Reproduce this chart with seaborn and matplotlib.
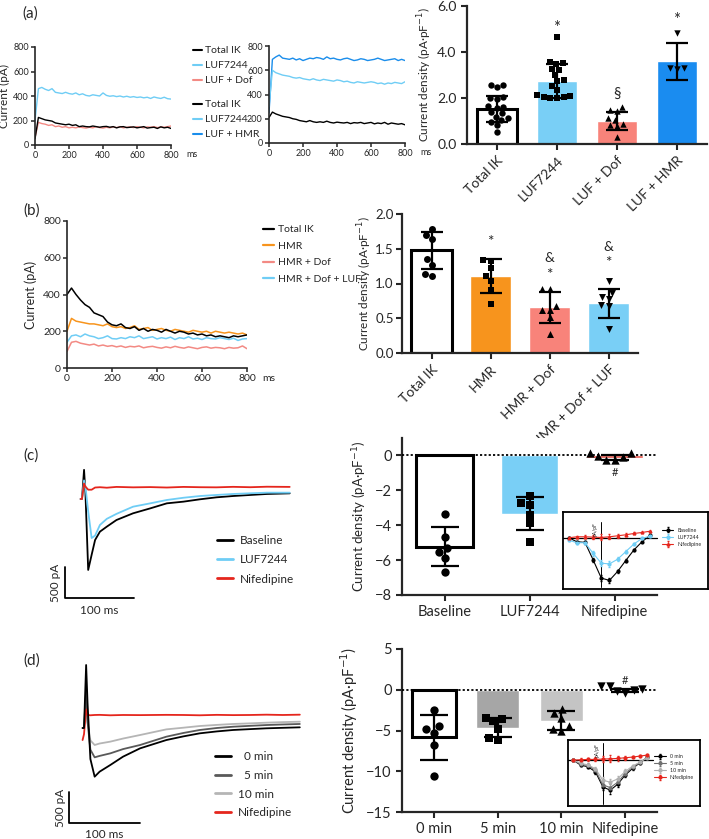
import numpy as np
import matplotlib
matplotlib.use("Agg")
import matplotlib.pyplot as plt
import seaborn as sns

W, H = 709, 839

# --------------------------------------------------------------------
# DATA
# --------------------------------------------------------------------
# (a) current traces, pA, sampled every 20 ms from 0 to 800 ms
a1_total = [50, 225, 215, 205, 200, 195, 180, 175, 170, 165, 170, 160, 165, 150, 155, 150, 148, 155, 150, 145, 150,
            152, 145, 150, 140, 148, 150, 142, 145, 148, 140, 145, 150, 138, 142, 145, 135, 148, 140, 145, 135]
a1_luf = [200, 460, 470, 455, 445, 460, 430, 425, 420, 430, 420, 415, 425, 410, 418, 405, 400, 410, 405, 400, 425,
          405, 398, 402, 395, 400, 392, 398, 390, 395, 388, 392, 385, 390, 380, 392, 385, 380, 390, 378, 375]
a1_dof = [60, 185, 175, 170, 160, 165, 150, 155, 145, 150, 140, 145, 140, 148, 142, 138, 145, 140, 150, 142, 138,
          145, 140, 148, 142, 150, 140, 145, 148, 142, 150, 145, 140, 148, 145, 150, 142, 148, 145, 150, 155]
a2_total = [210, 255, 240, 230, 220, 215, 210, 200, 195, 185, 180, 175, 185, 175, 170, 175, 170, 180, 170, 165, 172,
            168, 165, 170, 160, 168, 165, 170, 160, 165, 170, 158, 165, 160, 170, 155, 165, 160, 155, 160, 150]
a2_luf = [300, 600, 580, 570, 560, 555, 550, 540, 535, 540, 530, 525, 520, 530, 520, 515, 525, 520, 515, 510, 520,
          515, 505, 510, 500, 495, 505, 500, 495, 500, 505, 500, 490, 495, 485, 495, 490, 500, 495, 490, 505]
a2_hmr = [250, 690, 710, 725, 700, 695, 690, 700, 685, 695, 680, 690, 700, 695, 705, 700, 690, 710, 695, 700, 690,
          685, 695, 700, 690, 680, 685, 695, 690, 680, 685, 690, 700, 690, 680, 685, 690, 695, 680, 690, 680]

# (a) current density bars
a_cats = ["Total IK", "LUF7244", "LUF + Dof", "LUF + HMR"]
a_mean = [1.52, 2.75, 1.0, 3.6]
a_sd = [0.57, 0.75, 0.4, 0.8]
a_points = [
    [2.57, 2.55, 2.46, 2.03, 1.99, 1.94, 1.65, 1.62, 1.55, 1.40, 1.33, 1.19, 1.12, 1.04, 0.97, 0.83, 0.54],
    [4.67, 3.58, 3.51, 3.48, 3.25, 3.22, 3.0, 2.78, 2.74, 2.52, 2.35, 2.15, 2.1, 2.06, 2.03, 2.01, 2.0],
    [1.62, 1.48, 1.45, 1.12, 1.04, 0.87, 0.83, 0.78, 0.29],
    [4.81, 3.29, 3.26, 3.29],
]

# (b) current traces, pA, every 20 ms
b_total = [400, 435, 400, 370, 345, 330, 300, 290, 280, 250, 235, 230, 240, 220, 215, 225, 205, 215, 200, 210, 205,
           195, 210, 200, 190, 200, 195, 185, 190, 180, 185, 175, 180, 170, 175, 170, 165, 175, 170, 175, 180]
b_hmr = [200, 270, 255, 250, 245, 240, 240, 235, 230, 240, 225, 220, 225, 215, 220, 230, 210, 215, 220, 205, 210,
         215, 205, 200, 210, 205, 200, 195, 205, 200, 195, 200, 190, 200, 195, 190, 195, 190, 185, 190, 180]
b_dof = [90, 140, 145, 135, 130, 125, 130, 120, 125, 118, 122, 115, 120, 112, 118, 115, 120, 110, 115, 118, 112,
         108, 115, 110, 118, 112, 108, 115, 110, 105, 112, 115, 108, 112, 110, 105, 112, 108, 110, 120, 105]
b_luf = [140, 175, 180, 170, 185, 175, 170, 160, 165, 175, 160, 158, 165, 160, 170, 165, 175, 160, 165, 170, 158,
         165, 160, 168, 155, 165, 160, 170, 158, 162, 155, 165, 160, 158, 165, 160, 155, 162, 150, 158, 160]

b_cats = ["Total IK", "HMR", "HMR + Dof", "HMR + Dof + LUF"]
b_mean = [1.475, 1.11, 0.655, 0.715]
b_sd = [0.27, 0.245, 0.22, 0.21]
b_points = [
    [1.79, 1.70, 1.64, 1.35, 1.27, 1.14, 1.11],
    [1.34, 1.33, 1.23, 1.11, 1.03, 0.91, 0.70],
    [0.92, 0.92, 0.67, 0.62, 0.62, 0.52, 0.28],
    [1.04, 0.86, 0.80, 0.77, 0.69, 0.67, 0.35],
]

# (c) calcium current traces (ms, pA)
c_time = [-2, 0, 3, 5, 9, 14, 19, 26, 36, 50, 74, 99, 123, 147, 171, 195, 219, 244, 268, 301]
c_base = [0, 0, 470, 100, -1145, -900, -661, -527, -446, -339, -231, -151, -70, -43, -5, 27, 48, 65, 81, 91]
c_luf = [0, 0, 300, 200, -200, -630, -590, -419, -320, -240, -124, -70, -16, 20, 48, 65, 81, 92, 102, 102]
c_nif = [0, 0, 250, 200, 150, 150, 185, 190, 182, 195, 188, 192, 185, 195, 190, 188, 196, 190, 198, 195]

c_cats = ["Baseline", "LUF7244", "Nifedipine"]
c_mean = [-5.24, -3.35, -0.12]
c_sd = [1.12, 0.95, 0.15]
c_points = [
    [-3.37, -4.70, -5.28, -5.52, -5.90, -6.67],
    [-2.34, -2.72, -2.86, -3.39, -3.87, -4.95],
    [0.15, 0.12, -0.05, -0.1, -0.25, -0.25],
]
iv_volt = [-40, -30, -20, -10, 0, 10, 20, 30, 40, 50, 60]
c_iv_base = [0, -0.6, -0.7, -3.35, -6.1, -6.45, -5.1, -3.45, -1.85, -0.6, 0.4]
c_iv_luf = [-0.35, -0.75, -0.75, -2.35, -3.85, -3.95, -3.25, -2.1, -0.95, -0.1, 0.25]
c_iv_nif = [0, 0.15, 0.15, 0.1, 0.05, 0.15, 0.3, 0.45, 0.65, 0.8, 1.0]
c_iv_err = [0.1, 0.15, 0.2, 0.35, 0.45, 0.4, 0.3, 0.2, 0.15, 0.1, 0.1]

# (d) calcium current traces (ms, pA)
d_time = [-2, 0, 3, 5, 9, 15, 22, 37, 55, 79, 116, 140, 163, 187, 210, 234, 257, 280, 304]
d_0 = [0, 0, 1016, 400, -500, -785, -704, -597, -462, -328, -194, -135, -86, -55, -32, -18, -5, 3, 11]
d_5 = [0, 0, 600, 100, -350, -473, -450, -409, -340, -274, -140, -80, -32, 0, 21, 35, 48, 57, 65]
d_10 = [0, 0, 400, 100, -200, -274, -250, -220, -170, -113, -22, 5, 32, 50, 65, 75, 86, 95, 102]
d_nif = [-194, -100, 300, 210, 205, 210, 212, 205, 210, 208, 212, 210, 205, 212, 208, 210, 215, 210, 215]

d_cats = ["0 min", "5 min", "10 min", "Nifedipine"]
d_mean = [-5.8, -4.65, -3.8, -0.1]
d_sd = [2.76, 1.2, 1.15, 0.2]
d_points = [
    [-2.45, -4.5, -4.78, -5.31, -6.75, -10.63],
    [-3.43, -3.56, -3.88, -4.78, -5.89, -6.13],
    [-2.41, -2.86, -3.43, -4.5, -4.78, -5.07],
    [0.45, 0.45, 0.04, -0.08, -0.16, -0.37],
]
d_iv_0 = [0, -0.75, -1.0, -1.75, -4.0, -4.5, -3.6, -2.25, -1.25, -0.4, 0.4]
d_iv_5 = [0, -0.6, -0.8, -1.5, -3.7, -4.1, -3.3, -2.0, -1.1, -0.35, 0.4]
d_iv_10 = [0, -0.5, -0.7, -1.3, -3.0, -3.3, -2.8, -1.7, -0.9, -0.3, 0.35]
d_iv_nif = [0, 0.05, 0.1, 0.1, 0.15, 0.2, 0.25, 0.35, 0.45, 0.6, 0.75]
d_iv_err = [0.1, 0.2, 0.2, 0.3, 0.5, 0.5, 0.4, 0.3, 0.2, 0.15, 0.1]

# colours
BLACK = "black"
LBLUE = "#6fcdf5"
DBLUE = "#1a8deb"
PINK = "#f38a84"
ORANGE = "#f7941d"
RED = "#e5261d"

# --------------------------------------------------------------------
# STYLE
# --------------------------------------------------------------------
sns.set_style("ticks")
plt.rcParams["font.family"] = ["Lato", "DejaVu Sans"]
plt.rcParams["axes.linewidth"] = 1.2

fig = plt.figure(figsize=(W / 100, H / 100), dpi=100)


def rect(x0, y0, x1, y1):
    return [x0 / W, 1 - y1 / H, (x1 - x0) / W, (y1 - y0) / H]


def trace_axes(ax, labsize):
    sns.despine(ax=ax)
    ax.set_xlim(0, 800)
    ax.set_ylim(0, 800)
    ax.set_xticks(range(0, 801, 200))
    ax.set_yticks(range(0, 801, 200))
    ax.tick_params(labelsize=labsize, length=3, width=1.1, pad=1.5)
    ax.annotate("ms", xy=(1, 0), xycoords="axes fraction", xytext=(11, -labsize - 3.5),
                textcoords="offset points", fontsize=labsize, va="bottom")


def draw_traces(ax, series, colors, labels, lw=1.0):
    lines = []
    for vals, col, lab in zip(series, colors, labels):
        t = np.linspace(0, 800, len(vals))
        sns.lineplot(x=t, y=vals, ax=ax, color=col, lw=lw, estimator=None, sort=False)
        lines.append(ax.lines[-1])
    return lines


def fig_legend(handles, labels, x, y, fs, hl, tp, ls, lw):
    leg = fig.legend(handles, labels, loc="upper left", bbox_to_anchor=(x / W, 1 - y / H),
                     frameon=False, fontsize=fs, handlelength=hl, handletextpad=tp,
                     labelspacing=ls, borderpad=0, borderaxespad=0)
    for h in leg.legend_handles:
        h.set_linewidth(lw)
    return leg


def bar_panel(ax, cats, means, sds, points, colors, markers, msize=5.5, capsize=8):
    sns.barplot(x=cats, y=means, hue=cats, palette=colors, order=cats, hue_order=cats,
                legend=False, width=0.68, saturation=1, errorbar=None, ax=ax, zorder=2)
    for p, col in zip(ax.patches, colors):
        if col == "white":
            p.set_edgecolor("black")
            p.set_linewidth(2.2)
    ax.errorbar(np.arange(len(cats)), means, yerr=sds, fmt="none", ecolor="black",
                elinewidth=1.6, capsize=capsize, capthick=1.6, zorder=4)
    for cat, vals, m in zip(cats, points, markers):
        sns.swarmplot(x=[cat] * len(vals), y=vals, order=cats, marker=m, color="black",
                      size=msize, ax=ax, zorder=5, warn_thresh=1)
    sns.despine(ax=ax)
    for s in ("left", "bottom"):
        ax.spines[s].set_linewidth(1.6)
    ax.tick_params(length=4, width=1.5)
    ax.set_xlim(-0.5, len(cats) - 0.5)
    ax.set_xlabel("")


YLAB = "Current density (pA·pF$^{-1}$)"

# --------------------------------------------------------------------
# (a)
# --------------------------------------------------------------------
ax = fig.add_axes(rect(35, 47, 171, 145))
l1 = draw_traces(ax, [a1_luf, a1_dof, a1_total], [LBLUE, PINK, BLACK], ["LUF7244", "LUF + Dof", "Total IK"])
trace_axes(ax, 6.5)
ax.set_ylabel("Current (pA)", fontsize=8.5, labelpad=2)
fig_legend([l1[2], l1[0], l1[1]], ["Total IK", "LUF7244", "LUF + Dof"], 193, 46, 7.5, 0.9, 0.25, 0.55, 1.5)

ax = fig.add_axes(rect(269, 46, 405, 143))
l2 = draw_traces(ax, [a2_hmr, a2_luf, a2_total], [DBLUE, LBLUE, BLACK], ["LUF + HMR", "LUF7244", "Total IK"])
trace_axes(ax, 6.5)
fig_legend([l2[2], l2[1], l2[0]], ["Total IK", "LUF7244", "LUF + HMR"], 193, 100, 7.5, 0.9, 0.25, 0.55, 1.5)

ax = fig.add_axes(rect(467, 6, 707, 144))
bar_panel(ax, a_cats, a_mean, a_sd, a_points, ["white", "#79cff6", "#f8837a", "#1a8cf0"],
          ["o", "s", "^", "v"], msize=4.6, capsize=8)
ax.set_ylim(0, 6)
ax.set_yticks([0, 2, 4, 6])
ax.set_yticklabels(["0.0", "2.0", "4.0", "6.0"], fontsize=10)
ax.set_xticks(range(4))
ax.set_xticklabels(a_cats, rotation=45, ha="right", rotation_mode="anchor", fontsize=10)
ax.set_ylabel(YLAB, fontsize=8.5, labelpad=2)
ax.text(1, 5.05, "*", ha="center", va="center", fontsize=12)
ax.text(3, 5.4, "*", ha="center", va="center", fontsize=12)
ax.text(2, 2.2, "§", ha="center", va="center", fontsize=11)

fig.text(22 / W, 1 - 14 / H, "(a)", fontsize=11, va="center")

# --------------------------------------------------------------------
# (b)
# --------------------------------------------------------------------
ax = fig.add_axes(rect(67, 221, 247, 368))
lb = draw_traces(ax, [b_hmr, b_luf, b_dof, b_total], [ORANGE, LBLUE, PINK, BLACK],
                 ["HMR", "HMR + Dof + LUF", "HMR + Dof", "Total IK"], lw=1.1)
trace_axes(ax, 7.5)
ax.set_ylabel("Current (pA)", fontsize=9, labelpad=4)
fig_legend([lb[3], lb[0], lb[2], lb[1]], ["Total IK", "HMR", "HMR + Dof", "HMR + Dof + LUF"],
           263, 225, 7.5, 1.1, 0.35, 0.7, 1.6)

ax = fig.add_axes(rect(402, 214, 638, 353))
bar_panel(ax, b_cats, b_mean, b_sd, b_points, ["white", "#f7941d", "#f8837a", "#79cff6"],
          ["o", "s", "^", "v"], msize=5, capsize=8)
ax.set_ylim(0, 2)
ax.set_yticks([0, 0.5, 1.0, 1.5, 2.0])
ax.set_yticklabels(["0.0", "0.5", "1.0", "1.5", "2.0"], fontsize=9.5)
ax.tick_params(axis="y", pad=2)
ax.set_xticks(range(4))
ax.set_xticklabels(b_cats, rotation=45, ha="right", rotation_mode="anchor", fontsize=10)
ax.set_ylabel(YLAB, fontsize=8.5, labelpad=0.5)
ax.text(1, 1.59, "*", ha="center", va="center", fontsize=11)
ax.text(2, 1.36, "&", ha="center", va="center", fontsize=10)
ax.text(2, 1.12, "*", ha="center", va="center", fontsize=11)
ax.text(3, 1.52, "&", ha="center", va="center", fontsize=10)
ax.text(3, 1.29, "*", ha="center", va="center", fontsize=11)

fig.text(23 / W, 1 - 211 / H, "(b)", fontsize=11, va="center")


# --------------------------------------------------------------------
# (c)
# --------------------------------------------------------------------
def ca_traces(ax, time, series, colors, labels, xlim, ylim, bar, lw=1.3):
    lines = []
    for vals, col, lab in zip(series, colors, labels):
        sns.lineplot(x=time, y=vals, ax=ax, color=col, lw=lw, estimator=None, sort=False)
        lines.append(ax.lines[-1])
    ax.set_xlim(*xlim)
    ax.set_ylim(*ylim)
    ax.axis("off")
    t0, y0, tx, ty = bar
    ax.plot([t0, t0, t0 + 100], [y0 + 500, y0, y0], color="black", lw=1.3)
    ax.text(t0 + 50, ty, "100 ms", ha="center", va="center", fontsize=8.5)
    ax.text(tx, y0 + 250, "500 pA", ha="center", va="center", rotation=90, fontsize=8.5)
    return lines


def iv_inset(ax, series, colors, markers, labels, err, ylim, vtop, vbot):
    ax.plot([-47, 68], [0, 0], color="black", lw=0.9)
    ax.plot([0, 0], [vbot, vtop], color="black", lw=0.7)
    for vals, col, m, lab in zip(series, colors, markers, labels):
        ax.errorbar(iv_volt, vals, yerr=err, color=col, marker=m, ms=2, lw=0.8,
                    elinewidth=0.5, capsize=1, label=lab)
    ax.set_xlim(-47, 131)
    ax.set_ylim(*ylim)
    ax.set_xticks([])
    ax.set_yticks([])
    for s in ax.spines.values():
        s.set_linewidth(1.3)
        s.set_color("black")
    ax.text(-4, vtop, "pA/pF", rotation=90, fontsize=3.5, ha="right", va="top")
    ax.legend(loc="upper right", fontsize=3.8, frameon=False, handlelength=2.2,
              labelspacing=0.4, bbox_to_anchor=(0.99, 0.86))


ax = fig.add_axes(rect(55, 460, 305, 620))
lc = ca_traces(ax, c_time, [c_base, c_luf, c_nif], [BLACK, LBLUE, RED], c_cats,
               (-39.1, 323.2), (-1952, 629), (-24.6, -1597, -37.7, -1806))
fig_legend(lc, c_cats, 217, 535, 8.5, 1.35, 0.6, 0.7, 2)

ax = fig.add_axes(rect(402, 438, 657, 595))
bar_panel(ax, c_cats, c_mean, c_sd, c_points, ["white", "#79cff6", "#e9554c"],
          ["o", "s", "^"], msize=6, capsize=10)
ax.axhline(0, color="black", lw=1.3, ls=(0, (1.2, 1.2)), zorder=3)
ax.set_ylim(-8, 1)
ax.set_yticks([-8, -6, -4, -2, 0])
ax.tick_params(labelsize=10.5)
ax.set_ylabel(YLAB, fontsize=9.5, labelpad=4)
ax.text(2, -0.95, "#", ha="center", va="center", fontsize=8)

ax = fig.add_axes(rect(563, 512, 708, 589))
iv_inset(ax, [c_iv_base, c_iv_luf, c_iv_nif], [BLACK, LBLUE, RED], ["o", "o", "^"],
         ["Baseline", "LUF7244", "Nifedipine"], c_iv_err, (-7.75, 3.9), 2.4, -7.4)

fig.text(23 / W, 1 - 456 / H, "(c)", fontsize=11, va="center")

# --------------------------------------------------------------------
# (d)
# --------------------------------------------------------------------
ax = fig.add_axes(rect(55, 650, 305, 839))
ld = ca_traces(ax, d_time, [d_10, d_5, d_nif, d_0], ["#b5b5b5", "#595959", RED, BLACK],
               ["10 min", "5 min", "Nifedipine", "0 min"],
               (-40.85, 311.3), (-1790, 1258), (-21.1, -1532, -33.8, -1710))
fig_legend([ld[3], ld[1], ld[0], ld[2]], ["  0 min", "  5 min", "10 min", "Nifedipine"],
           215, 751, 8.5, 1.35, 0.6, 0.66, 2)

ax = fig.add_axes(rect(402, 649, 657, 812))
bar_panel(ax, d_cats, d_mean, d_sd, d_points, ["white", "#a6a6a6", "#c4c4c4", "#e9554c"],
          ["o", "s", "^", "v"], msize=6, capsize=10)
ax.axhline(0, color="black", lw=1.3, ls=(0, (1.2, 1.2)), zorder=3)
ax.set_ylim(-15, 5)
ax.set_yticks([-15, -10, -5, 0, 5])
ax.tick_params(labelsize=10.5)
ax.set_ylabel(YLAB, fontsize=10.5, labelpad=4)
ax.text(3, 1.1, "#", ha="center", va="center", fontsize=8)

ax = fig.add_axes(rect(568, 740, 700, 806))
iv_inset(ax, [d_iv_0, d_iv_5, d_iv_10, d_iv_nif], [BLACK, "#707070", "#b0b0b0", RED],
         ["o", "o", "o", "o"], ["0 min", "5 min", "10 min", "Nifedipine"], d_iv_err,
         (-6.85, 3.0), 2.5, -6.5)

fig.text(23 / W, 1 - 661 / H, "(d)", fontsize=11, va="center")

fig.savefig("out.png", dpi=100, facecolor="white")
